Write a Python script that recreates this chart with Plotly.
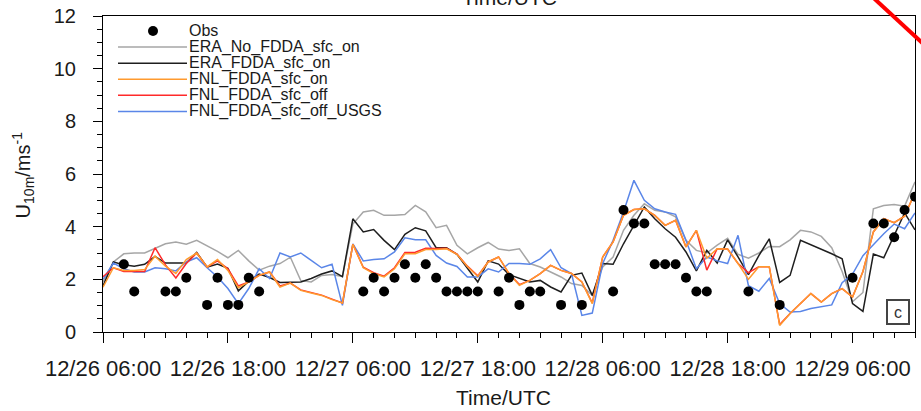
import pandas as pd
import plotly.graph_objects as go

# Hourly model output, 12/26 06:00 UTC to 12/29 12:00 UTC (79 steps)
start = pd.Timestamp("2016-12-26 06:00")
times = pd.date_range(start, periods=79, freq="h")

era_no_fdda_sfc_on = [
    1.9, 2.66, 2.97, 3.0, 3.0, 3.16, 3.35, 3.42, 3.33, 3.48,
    3.28, 3.06, 2.82, 3.1, 2.7, 2.35, 2.5, 2.6, 2.84, 1.95,
    1.9, 2.15, 2.18, 2.1, 4.1, 4.56, 4.62, 4.43, 4.43, 4.46,
    4.81, 4.56, 3.96, 4.05, 3.29, 2.97, 3.2, 3.4, 3.15, 3.1,
    3.16, 2.6, 2.47, 2.28, 2.09, 1.84, 1.77, 1.39, 2.47, 2.85,
    3.86, 4.43, 4.87, 4.62, 4.56, 4.37, 3.48, 3.1, 3.0, 3.3,
    3.56, 2.95, 2.8, 3.0, 3.25, 3.24, 3.5, 3.86, 3.8, 3.63,
    3.2, 2.3, 1.15, 1.5, 4.68, 4.8, 4.84, 4.78, 5.7,
]
era_fdda_sfc_on = [
    1.75, 2.66, 2.55, 2.5, 2.57, 2.87, 2.62, 2.62, 2.62, 3.02,
    2.46, 2.58, 2.42, 1.56, 1.93, 2.2, 2.07, 1.88, 1.9, 1.9,
    2.03, 2.2, 2.32, 2.1, 4.3, 3.8, 3.89, 3.48, 3.13, 3.71,
    3.96, 3.84, 3.2, 3.2, 2.95, 2.44, 1.9, 2.7, 2.58, 2.18,
    2.03, 1.9, 1.96, 1.71, 1.52, 2.15, 2.24, 1.39, 2.6, 2.57,
    3.35, 4.05, 4.75, 4.3, 3.92, 3.6, 3.04, 2.32, 3.1, 2.62,
    3.5, 2.85, 2.18, 2.9, 3.54, 1.88, 2.15, 3.48, 3.32, 3.15,
    2.97, 2.78, 1.08, 0.78, 2.96, 2.82, 3.7, 4.52, 3.88,
]
fnl_fdda_sfc_on = [
    1.7, 2.44, 2.34, 2.34, 2.37, 2.88, 2.5, 2.22, 2.75, 3.0,
    2.47, 2.75, 2.34, 1.68, 1.9, 2.15, 2.28, 1.71, 1.86, 1.58,
    1.48, 1.39, 1.23, 1.1, 3.33, 2.44, 2.22, 2.09, 2.4, 2.97,
    2.97, 3.13, 3.13, 3.16, 2.95, 2.49, 2.11, 2.66, 2.85, 2.22,
    1.77, 1.96, 2.22, 2.53, 2.34, 2.22, 1.9, 1.08, 2.85, 3.42,
    4.43, 4.65, 4.68, 4.43, 4.05, 4.24, 3.23, 3.86, 2.8, 3.16,
    3.15, 2.6, 2.0, 2.48, 2.48, 0.25, 0.7, 1.1, 1.46, 1.14,
    1.46, 1.65, 1.33, 2.3, 3.8, 4.3, 4.15, 4.4, 5.3,
]
fnl_fdda_sfc_off = [
    2.1, 2.44, 2.3, 2.3, 2.3, 3.2, 2.55, 2.05, 2.6, 3.0,
    2.47, 2.7, 2.4, 1.75, 1.9, 2.15, 2.28, 1.75, 1.86, 1.6,
    1.5, 1.4, 1.25, 1.1, 3.33, 2.46, 2.25, 2.12, 2.44, 3.02,
    3.03, 3.18, 3.17, 3.18, 2.96, 2.5, 2.13, 2.66, 2.85, 2.22,
    1.8, 1.96, 2.22, 2.53, 2.34, 2.22, 1.9, 1.1, 2.85, 3.42,
    4.43, 4.65, 4.68, 4.43, 4.05, 4.24, 3.23, 3.86, 2.35, 3.16,
    3.15, 2.6, 2.25, 2.48, 2.48, 0.28, 0.7, 1.1, 1.46, 1.14,
    1.46, 1.65, 1.33, 2.3, 3.8, 4.3, 4.15, 4.4, 5.3,
]
fnl_fdda_sfc_off_usgs = [
    2.0, 2.62, 2.4, 2.28, 2.28, 2.44, 2.4, 2.32, 2.66, 2.82,
    2.44, 2.09, 1.65, 1.08, 1.65, 2.4, 2.03, 3.0, 2.85, 3.0,
    2.72, 2.44, 2.57, 1.01, 3.35, 2.7, 2.75, 2.78, 3.04, 3.58,
    3.5, 3.5, 2.91, 2.62, 2.49, 2.09, 2.09, 2.4, 2.28, 2.6,
    2.6, 2.57, 2.78, 3.13, 2.44, 2.22, 0.63, 0.72, 2.6, 3.48,
    4.56, 5.76, 5.0, 4.68, 4.56, 4.47, 3.48, 2.4, 2.85, 2.7,
    2.6, 3.67, 1.76, 1.55, 2.03, 1.08, 0.76, 0.78, 0.89, 0.95,
    1.03, 1.87, 2.2, 2.9, 3.32, 3.73, 4.1, 3.92, 4.52,
]

# Station observations: hours after 12/26 06:00 UTC and 10 m wind speed
obs_hours = [2, 3, 6, 7, 8, 10, 11, 12, 13, 14, 15,
             25, 26, 27, 28, 29, 30, 31, 32, 33, 34, 35, 36, 38, 39,
             40, 41, 42, 44, 46, 49, 50, 51, 52, 53, 54, 55, 56, 57, 58,
             62, 65, 72, 74, 75, 76, 77, 78]
obs_speed = [2.57, 1.54, 1.54, 1.54, 2.06, 1.03, 2.06, 1.03, 1.03, 2.06, 1.54,
             1.54, 2.06, 1.54, 2.06, 2.57, 2.06, 2.57, 2.06, 1.54, 1.54, 1.54, 1.54, 1.54, 2.06,
             1.03, 1.54, 1.54, 1.03, 1.03, 1.54, 4.63, 4.12, 4.12, 2.57, 2.57, 2.57, 2.06, 1.54, 1.54,
             1.54, 1.03, 2.06, 4.12, 4.12, 3.6, 4.63, 5.14]
obs_times = [start + pd.Timedelta(hours=h) for h in obs_hours]

series = [
    ("ERA_No_FDDA_sfc_on", era_no_fdda_sfc_on, "#a6a6a6"),
    ("ERA_FDDA_sfc_on", era_fdda_sfc_on, "#1e1e1e"),
    ("FNL_FDDA_sfc_on", fnl_fdda_sfc_on, "#ff9a2e"),
    ("FNL_FDDA_sfc_off", fnl_fdda_sfc_off, "#ff2a2a"),
    ("FNL_FDDA_sfc_off_USGS", fnl_fdda_sfc_off_usgs, "#5a86e8"),
]
draw_order = [0, 1, 4, 3, 2]

FONT = "Liberation Sans, Arial, Helvetica, sans-serif"
TXT = "#1a1a1a"

fig = go.Figure()
for i in draw_order:
    name, vals, col = series[i]
    fig.add_trace(go.Scatter(x=times, y=vals, mode="lines", name=name,
                             line=dict(color=col, width=1.5), showlegend=False))
fig.add_trace(go.Scatter(x=obs_times, y=obs_speed, mode="markers", name="Obs",
                         marker=dict(color="black", size=10), showlegend=False))

# Plot-area geometry (pixels) used to place the hand-built key
W, H = 921, 411
L, R, T, B = 103, 915, 15.5, 331.7
pw, ph = R - L, B - T
px = lambda x: (x - L) / pw
py = lambda y: (B - y) / ph

shapes = []
annotations = []
row_y = [30.5 + 16.1 * k for k in range(6)]
# Obs key symbol
shapes.append(dict(type="circle", xref="paper", yref="paper",
                   xsizemode="pixel", ysizemode="pixel",
                   xanchor=px(153), yanchor=py(row_y[0]),
                   x0=-5, x1=5, y0=-5, y1=5,
                   fillcolor="black", line=dict(width=0)))
annotations.append(dict(text="Obs", x=px(187), y=py(row_y[0]), xref="paper", yref="paper",
                        xanchor="left", yanchor="middle", showarrow=False,
                        font=dict(family=FONT, size=16, color=TXT)))
for k, (name, _, col) in enumerate(series, start=1):
    shapes.append(dict(type="line", xref="paper", yref="paper",
                       x0=px(118), x1=px(187), y0=py(row_y[k]), y1=py(row_y[k]),
                       line=dict(color=col, width=1.5)))
    annotations.append(dict(text=name, x=px(187), y=py(row_y[k]), xref="paper", yref="paper",
                            xanchor="left", yanchor="middle", showarrow=False,
                            font=dict(family=FONT, size=16, color=TXT)))

# panel label
annotations.append(dict(text="c", x=px(898), y=py(312), xref="paper", yref="paper",
                        xanchor="center", yanchor="middle", showarrow=False,
                        bordercolor="#444444", borderwidth=2, borderpad=2,
                        bgcolor="white", width=16, height=18,
                        font=dict(family=FONT, size=16, color="#333333")))
# axis titles
annotations.append(dict(text="Time/UTC", x=px(503), y=py(397), xref="paper", yref="paper",
                        xanchor="center", yanchor="middle", showarrow=False,
                        font=dict(family=FONT, size=21, color=TXT)))
annotations.append(dict(text="U<sub>10m</sub>/ms<sup>-1</sup>", x=px(23), y=py(175),
                        xref="paper", yref="paper", textangle=-90,
                        xanchor="center", yanchor="middle", showarrow=False,
                        font=dict(family=FONT, size=20, color=TXT)))
# title of the panel above, cut by the page edge
annotations.append(dict(text="Time/UTC", x=px(509), y=py(-3), xref="paper", yref="paper",
                        xanchor="center", yanchor="middle", showarrow=False,
                        font=dict(family=FONT, size=21, color=TXT)))
# red stroke entering from the upper-right corner
shapes.append(dict(type="line", xref="paper", yref="paper",
                   x0=px(872), y0=py(-4), x1=px(925), y1=py(45),
                   line=dict(color="#ff0000", width=4)))

fig.update_layout(
    width=W, height=H,
    margin=dict(l=L, r=W - R, t=T, b=H - B, pad=0),
    paper_bgcolor="white", plot_bgcolor="white",
    showlegend=False,
    shapes=shapes, annotations=annotations,
    font=dict(family=FONT, color=TXT),
)
fig.update_xaxes(
    type="date", range=[times[0], times[-1]],
    tick0=times[0], dtick=12 * 3600 * 1000, tickformat="%m/%d %H:%M",
    ticks="outside", ticklen=10, tickwidth=1, tickcolor="black",
    minor=dict(dtick=2 * 3600 * 1000, tick0=times[0], ticks="outside",
               ticklen=5, tickwidth=1, tickcolor="black", showgrid=False),
    showline=True, linecolor="black", linewidth=1, mirror=True,
    showgrid=False, zeroline=False,
    tickfont=dict(family=FONT, size=22, color=TXT), ticklabelstandoff=7,
)
fig.update_yaxes(
    range=[0, 12], tick0=0, dtick=2,
    ticks="outside", ticklen=9, tickwidth=1, tickcolor="black",
    minor=dict(dtick=0.5, ticks="outside", ticklen=5, tickwidth=1,
               tickcolor="black", showgrid=False),
    showline=True, linecolor="black", linewidth=1, mirror=True,
    showgrid=False, zeroline=False,
    tickfont=dict(family=FONT, size=20, color=TXT), ticklabelstandoff=13,
)

fig.write_html("out.html")
